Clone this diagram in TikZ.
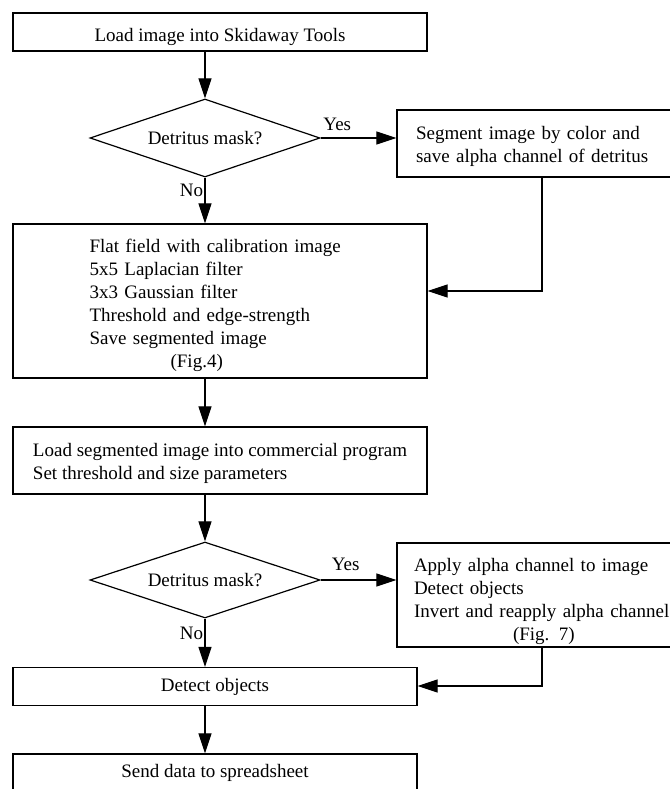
\documentclass[tikz,border=0pt]{standalone}
\usepackage{fontspec}
\setmainfont{Liberation Serif}
\usetikzlibrary{arrows.meta, shapes.geometric}

\newcommand{\lowerby}[1]{\rule{0pt}{#1}}

\begin{document}
\begin{tikzpicture}[
  x=1pt, y=1pt,
  every node/.style = {font=\fontsize{19}{23}\selectfont},
  procbox/.style  = {rectangle, draw, line width=1.2pt,
                     minimum width=414pt, minimum height=#1,
                     inner sep=0pt, align=center},
  procbox/.default = 38pt,
  listbox/.style  = {rectangle, draw, line width=1.2pt,
                     inner ysep=0pt, align=left},
  decision/.style = {diamond, draw, line width=1.2pt, aspect=3,
                     minimum width=230pt, minimum height=78pt,
                     inner sep=0pt},
  arr/.style = {-{Triangle[length=20pt, width=13pt]}, line width=1.1pt},
]
\useasboundingbox (0,0) rectangle (669,-789);

%% -- Stage 1: Skidaway Tools ----------------------------------------------
\node[procbox, text height=19pt, text depth=0pt] at (220, -32) (load)
  {Load image into Skidaway Tools};

\node[decision] at (205, -138) (maskA) {Detritus mask?};

\node[listbox, minimum height=67pt, inner xsep=19pt, text width=262pt]
  at (547, -143.5) (segment) {
  \lowerby{19.5pt}Segment image by color and\\
  save alpha channel of detritus
};

\node[listbox, minimum height=154pt, inner xsep=76.6pt, text width=260.8pt]
  at (220, -301) (flat) {
  \lowerby{21.5pt}Flat field with calibration image\\
  5x5 Laplacian filter\\
  3x3 Gaussian filter\\
  Threshold and edge-strength\\
  Save segmented image\\
  \hspace*{81pt}(Fig.4)
};

%% -- Stage 2: commercial program ------------------------------------------
\node[procbox=67pt, align=left] at (220, -460.5) (loadseg) {
  \lowerby{19.5pt}Load segmented image into commercial program\\
  Set threshold and size parameters
};

\node[decision, minimum height=76pt] at (205, -580) (maskB) {Detritus mask?};

\node[listbox, minimum height=104pt, inner xsep=17pt, text width=266pt]
  at (547, -595) (apply) {
  \lowerby{27pt}Apply alpha channel to image\\
  Detect objects\\
  Invert and reapply alpha channel\\
  \hspace*{99pt}(Fig. 7)
};

\node[procbox, minimum width=404pt] at (215, -686.5) (detect) {Detect objects};
\node[procbox, minimum width=404pt] at (215, -773) (send) {Send data to spreadsheet};

%% -- Return points of the side branches -----------------------------------
\coordinate (backA) at (542, -291);
\coordinate (backB) at (542, -686);

%% -- Arrows ---------------------------------------------------------------
\draw[arr] (maskA.north |- load.south) -- (maskA.north);
\draw[arr] (maskA.east) -- node[pos=0.22, above, yshift=3pt] {Yes} (maskA.east -| segment.west);
\draw[arr] (maskA.south) -- node[pos=0.27, left, xshift=2pt] {No} (maskA.south |- flat.north);
\draw[arr] (backA |- segment.south) -- (backA) -- (backA -| flat.east);

\draw[arr] (flat.south -| maskA) -- (loadseg.north -| maskA);
\draw[arr] (loadseg.south -| maskB) -- (maskB.north);
\draw[arr] (maskB.east) -- node[pos=0.33, above, yshift=5pt] {Yes} (maskB.east -| apply.west);
\draw[arr] (maskB.south) -- node[pos=0.3, left, xshift=2pt] {No} (maskB.south |- detect.north);
\draw[arr] (backB |- apply.south) -- (backB) -- (backB -| detect.east);
\draw[arr] (detect.south -| maskB) -- (send.north -| maskB);

\end{tikzpicture}
\end{document}
